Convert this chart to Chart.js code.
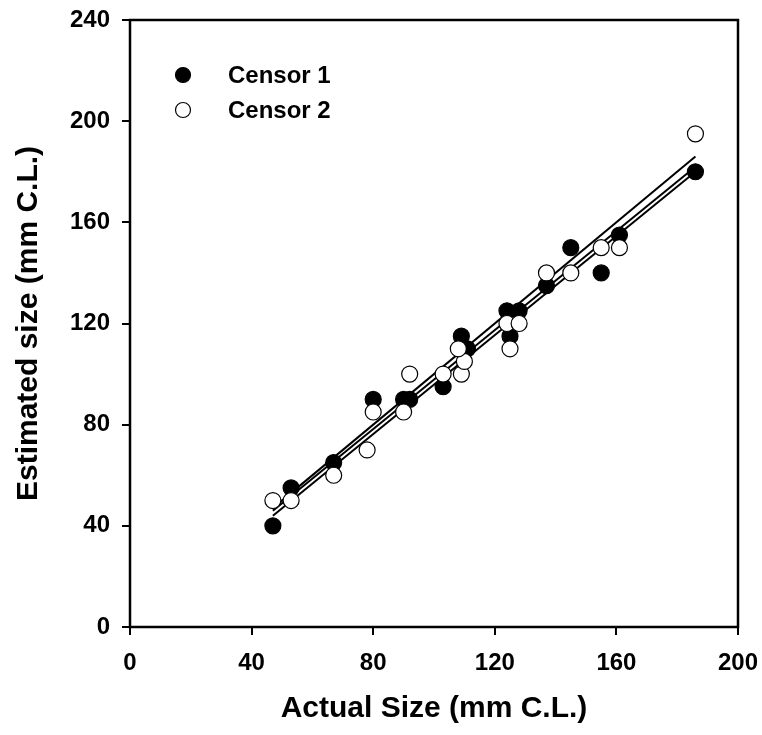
<!DOCTYPE html>
<html lang="en">

<head>
    <meta charset="UTF-8">
    <title>Estimated vs actual size</title>
    <script src="https://cdn.jsdelivr.net/npm/chart.js"></script>
    <style>
        html, body {
            margin: 0;
            padding: 0;
            background: #fff;
        }
        #wrap {
            width: 762px;
            height: 735px;
        }
    </style>
</head>

<body>
    <div id="wrap">
        <canvas id="sizeChart" width="762" height="735"></canvas>
    </div>

    <script>
        // values
        var censor1X = [47, 53, 67, 80, 90, 92, 103, 109, 111, 124, 125, 128, 137, 145, 155, 161, 186];
        var censor1Y = [40, 55, 65, 90, 90, 90, 95, 115, 110, 125, 115, 125, 135, 150, 140, 155, 180];

        var censor2X = [47, 53, 67, 78, 80, 90, 92, 103, 109, 110, 108, 124, 125, 128, 137, 145, 155, 161, 186];
        var censor2Y = [50, 50, 60, 70, 85, 85, 100, 100, 100, 105, 110, 120, 110, 120, 140, 140, 150, 150, 195];

        // three fitted lines, start and end
        var lineX = [47, 186];
        var lineAY = [47, 186];
        var lineBY = [46, 182];
        var lineCY = [44, 180];

        var xTicks = [0, 40, 80, 120, 160, 200];
        var yTicks = [0, 40, 80, 120, 160, 200, 240];

        function toPoints(xs, ys) {
            return xs.map((x, i) => ({ x: x, y: ys[i] }));
        }

        function fitLine(ys) {
            return {
                type: 'line',
                data: toPoints(lineX, ys),
                borderColor: '#000',
                borderWidth: 2,
                pointRadius: 0,
                fill: false,
                order: 3,
                isFit: true
            };
        }

        var tickFont = { family: 'Liberation Sans, Arial, sans-serif', size: 24, weight: 'bold' };
        var titleFont = { family: 'Liberation Sans, Arial, sans-serif', size: 30, weight: 'bold' };

        // box around the plot area
        var framePlugin = {
            id: 'frame',
            beforeDatasetsDraw(chart) {
                var a = chart.chartArea;
                var ctx = chart.ctx;
                ctx.save();
                ctx.strokeStyle = '#000';
                ctx.lineWidth = 2.5;
                ctx.strokeRect(a.left, a.top, a.right - a.left, a.bottom - a.top);
                ctx.restore();
            }
        };

        // legend inside the plot, top left
        var insideLegend = {
            id: 'insideLegend',
            afterDatasetsDraw(chart) {
                var ctx = chart.ctx;
                var x0 = 183, y0 = 75, step = 35;
                var items = chart.data.datasets.filter(d => !d.isFit).reverse();
                ctx.save();
                ctx.font = 'bold 24px "Liberation Sans", Arial, sans-serif';
                ctx.textBaseline = 'middle';
                items.forEach((d, i) => {
                    var y = y0 + i * step;
                    ctx.beginPath();
                    ctx.arc(x0, y, 7.5, 0, Math.PI * 2);
                    ctx.fillStyle = d.backgroundColor;
                    ctx.fill();
                    ctx.lineWidth = 1.2;
                    ctx.strokeStyle = '#000';
                    ctx.stroke();
                    ctx.fillStyle = '#000';
                    ctx.fillText(d.label, 228, y + 1);
                });
                ctx.restore();
            }
        };

        var ctx = document.getElementById('sizeChart').getContext('2d');
        var sizeChart = new Chart(ctx, {
            type: 'scatter',
            data: {
                datasets: [
                    {
                        label: 'Censor 2',
                        data: toPoints(censor2X, censor2Y),
                        backgroundColor: '#fff',
                        borderColor: '#000',
                        borderWidth: 1.2,
                        pointRadius: 8,
                        order: 1
                    },
                    {
                        label: 'Censor 1',
                        data: toPoints(censor1X, censor1Y),
                        backgroundColor: '#000',
                        borderColor: '#000',
                        borderWidth: 1.2,
                        pointRadius: 8,
                        order: 2
                    },
                    fitLine(lineAY),
                    fitLine(lineBY),
                    fitLine(lineCY)
                ]
            },
            options: {
                responsive: false,
                animation: false,
                layout: {
                    padding: { left: 0, right: 24, top: 20, bottom: 0 }
                },
                plugins: {
                    legend: { display: false },
                    tooltip: { enabled: false }
                },
                scales: {
                    x: {
                        type: 'linear',
                        min: 0,
                        max: 200,
                        afterBuildTicks: (s) => { s.ticks = xTicks.map(v => ({ value: v })); },
                        afterFit: (s) => {
                            s.height = 108;
                            s.paddingLeft = 0;
                            s.paddingRight = 0;
                        },
                        border: { display: false },
                        grid: {
                            drawOnChartArea: false,
                            drawTicks: true,
                            tickLength: 8,
                            lineWidth: 2,
                            color: '#000'
                        },
                        ticks: {
                            color: '#000',
                            font: tickFont,
                            padding: 14,
                            maxRotation: 0
                        },
                        title: {
                            display: true,
                            text: 'Actual Size (mm C.L.)',
                            color: '#000',
                            font: titleFont,
                            padding: { top: 0, bottom: 8 }
                        }
                    },
                    y: {
                        type: 'linear',
                        min: 0,
                        max: 240,
                        afterBuildTicks: (s) => { s.ticks = yTicks.map(v => ({ value: v })); },
                        afterFit: (s) => {
                            s.width = 130;
                            s.paddingTop = 0;
                            s.paddingBottom = 0;
                        },
                        border: { display: false },
                        grid: {
                            drawOnChartArea: false,
                            drawTicks: true,
                            tickLength: 8,
                            lineWidth: 2,
                            color: '#000'
                        },
                        ticks: {
                            color: '#000',
                            font: tickFont,
                            padding: 12
                        },
                        title: {
                            display: true,
                            text: 'Estimated size (mm C.L.)',
                            color: '#000',
                            font: titleFont,
                            padding: { top: 11, bottom: 0 }
                        }
                    }
                }
            },
            plugins: [framePlugin, insideLegend]
        });
    </script>
</body>

</html>
